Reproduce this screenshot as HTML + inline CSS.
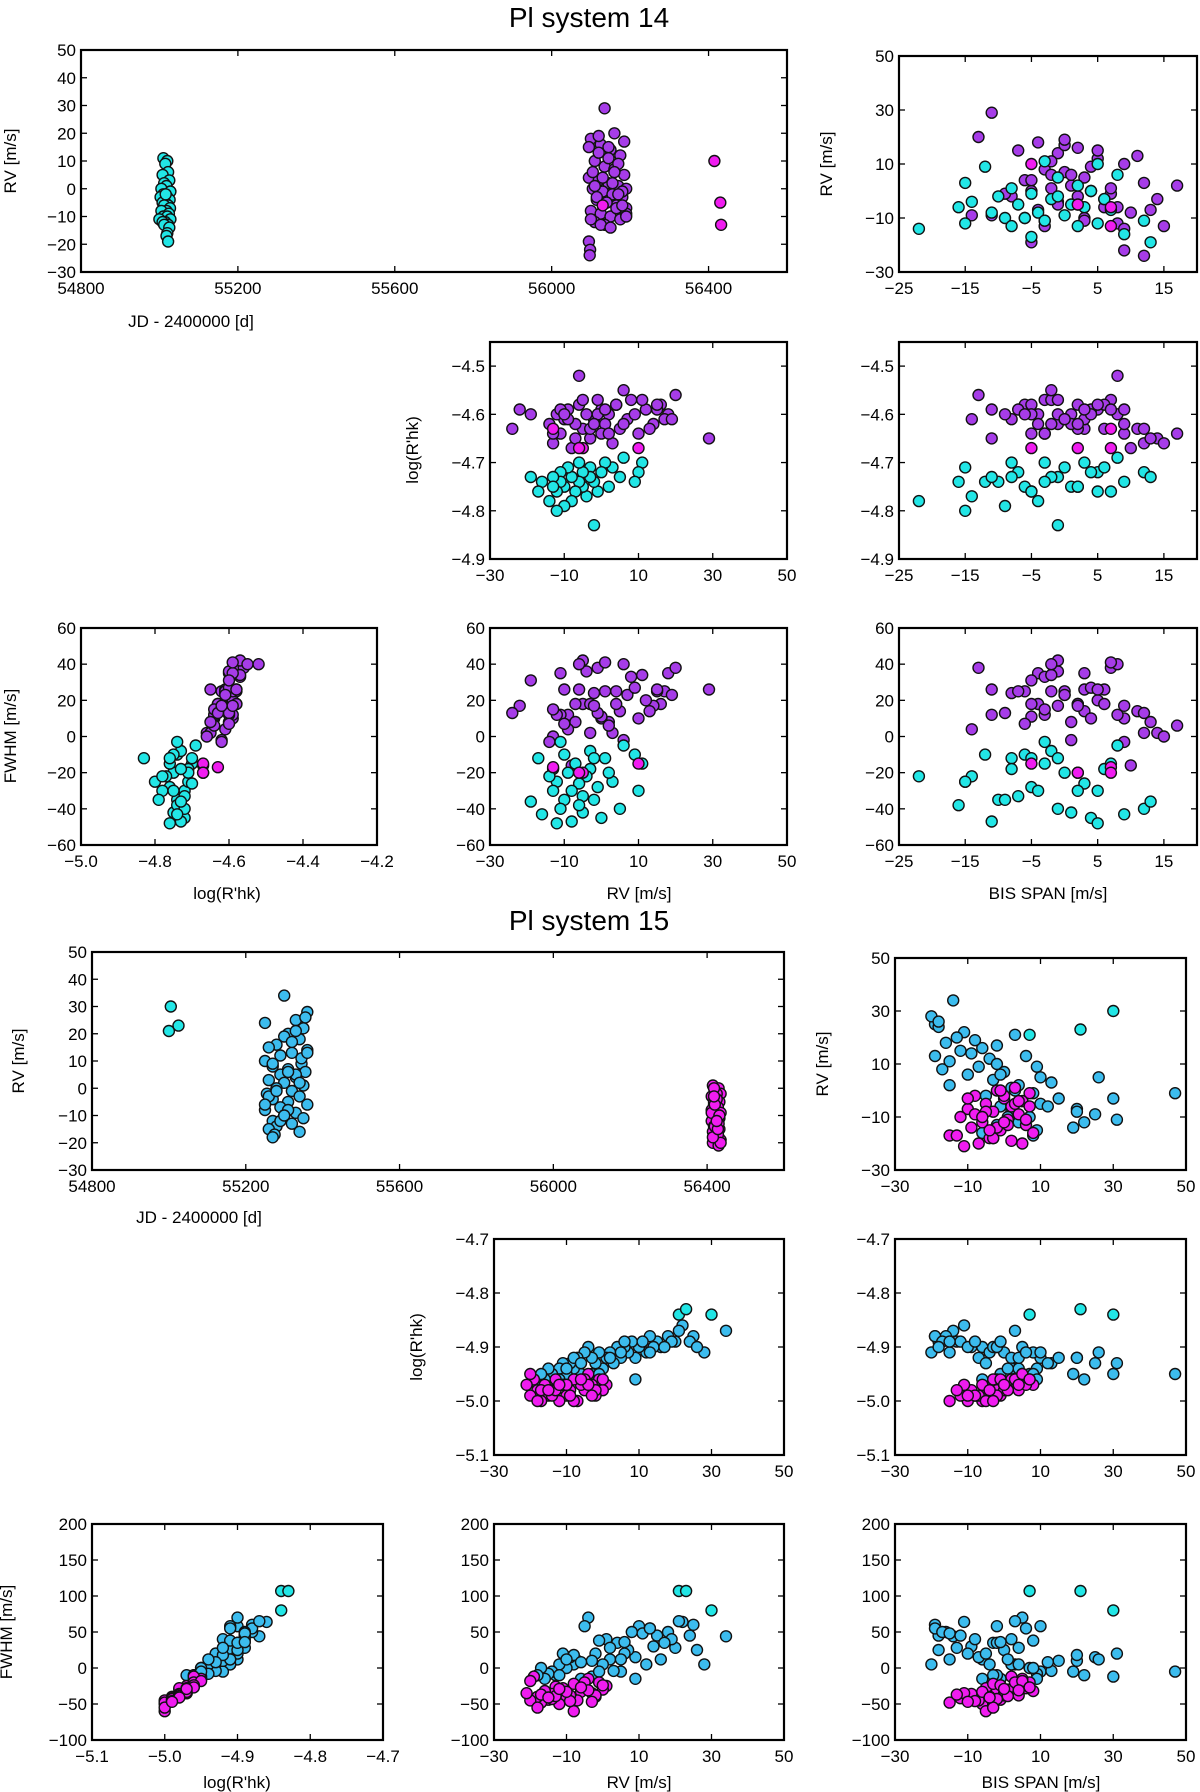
<!DOCTYPE html>
<html><head><meta charset="utf-8"><style>
body{margin:0;background:#fff;}
svg{display:block;font-family:"Liberation Sans","DejaVu Sans",sans-serif;}
</style></head><body>
<svg id="fig" width="1200" height="1792" viewBox="0 0 1200 1792" xmlns="http://www.w3.org/2000/svg">
<rect width="1200" height="1792" fill="#fff"/>
<text x="589" y="27" font-size="28" text-anchor="middle">Pl system 14</text>
<text x="589" y="930" font-size="28" text-anchor="middle">Pl system 15</text>
<g id="plots"></g>
</svg>
<script>
// ---- System 14 data ----
const c14_jd=[55010,55020,55015,55022,55008,55025,55012,55018,55005,55028,55010,55020,55003,55026,55015,55008,55022,55012,55027,55018,55005,55024,55010,55020,55000,55028,55015,55008,55022,55012,55025,55020,55018,55022,55016];
const c14_rv=[11,10,9,6,5,3,2,1,0,-1,-2,-3,-3,-4,-5,-5,-6,-6,-7,-8,-8,-9,-10,-10,-11,-11,-12,-12,-13,-13,-14,-16,-17,-19,-2];
const c14_lr=[-4.70,-4.72,-4.74,-4.69,-4.73,-4.71,-4.75,-4.70,-4.72,-4.76,-4.74,-4.71,-4.73,-4.77,-4.75,-4.72,-4.70,-4.74,-4.76,-4.78,-4.73,-4.71,-4.75,-4.79,-4.72,-4.74,-4.80,-4.76,-4.73,-4.75,-4.78,-4.74,-4.76,-4.73,-4.83];
const c14_fw=[-15,-30,-10,-5,-40,-25,-20,-12,-45,-28,-35,-18,-8,-22,-42,-33,-26,-38,-15,-30,-47,-20,-10,-35,-40,-3,-25,-48,-18,-30,-22,-43,-12,-36,-12];
const c14_bis=[-3,5,-12,8,-1,-15,2,-8,4,-5,-10,6,-2,-14,1,-7,3,-16,7,-4,-11,0,-6,-9,12,-3,-15,5,-8,2,-22,9,-5,13,-1];

const p14_jd=[56100,56125,56150,56175,56110,56135,56160,56185,56095,56120,56145,56170,56190,56105,56130,56155,56180,56115,56140,56165,56190,56100,56125,56150,56175,56110,56135,56160,56185,56095,56120,56145,56170,56105,56130,56155,56180,56115,56140,56165,56190,56100,56125,56150,56095,56098,56097,56135,56120,56145,56160,56170,56180,56190,56110];
const p14_rv=[18,16,14,12,10,8,7,5,4,3,2,1,0,0,-1,-2,-3,-4,-5,-6,-7,-8,-9,-10,-11,-12,-13,20,17,15,13,11,9,6,4,2,-1,-3,-5,-7,-9,-11,-13,-14,-19,-22,-24,29,19,15,6,-2,-6,-10,1];
const p14_lr=[-4.60,-4.58,-4.62,-4.59,-4.64,-4.57,-4.61,-4.63,-4.58,-4.66,-4.60,-4.62,-4.59,-4.64,-4.57,-4.61,-4.65,-4.60,-4.63,-4.58,-4.62,-4.67,-4.59,-4.61,-4.64,-4.60,-4.66,-4.56,-4.61,-4.59,-4.63,-4.57,-4.60,-4.62,-4.58,-4.64,-4.60,-4.63,-4.57,-4.65,-4.61,-4.59,-4.64,-4.62,-4.60,-4.59,-4.63,-4.65,-4.61,-4.58,-4.55,-4.62,-4.52,-4.60,-4.59];
const p14_fw=[35,18,17,20,10,33,23,14,25,2,8,25,10,11,38,24,2,36,18,26,18,-16,12,26,12,12,0,38,25,25,14,34,27,-2,18,6,13,18,42,8,4,35,15,-3,31,17,13,26,23,26,40,17,40,7,41];
const p14_bis=[-4,2,-1,5,9,-3,0,3,-6,12,1,-2,4,-5,7,-8,14,-1,2,6,-4,10,-11,3,-3,8,15,-13,0,-7,11,-2,4,1,-5,17,-9,6,-1,13,-14,3,-3,9,-5,9,12,-11,0,5,-2,2,8,-6,7];

const m14_jd=[56415,56430,56432,56130];
const m14_rv=[10,-5,-13,-6];
const m14_lr=[-4.67,-4.67,-4.63,-4.67];
const m14_fw=[-15,-20,-17,-20];
const m14_bis=[-5,2,7,7];

// ---- System 15 data ----
const c15_jd=[55005,55000,55025];
const c15_rv=[30,21,23];
const c15_lr=[-4.84,-4.84,-4.83];
const c15_fw=[80,107,107];
const c15_bis=[30,7,21];

const b15_jd=[55300,55330,55360,55250,55350,55310,55340,55280,55260,55360,55320,55290,55250,55345,55270,55310,55355,55290,55330,55260,55300,55350,55280,55320,55255,55340,55270,55310,55360,55290,55250,55330,55300,55350,55270,55320,55280,55260,55340,55275,55270,55300,55345,55330,55260,55310,55290,55355,55320,55270,55340,55250,55300,55360,55280,55330,55310];
const b15_rv=[34,25,28,24,22,20,18,16,15,14,13,12,10,9,8,7,6,5,4,3,2,1,0,-1,-2,-3,-4,-5,-6,-7,-8,-9,-10,-11,-12,-13,-14,-15,-16,-17,-18,19,11,5,-3,-8,-12,26,17,9,2,-6,-10,13,-1,21,6];
const b15_lr=[-4.87,-4.88,-4.91,-4.89,-4.86,-4.89,-4.88,-4.90,-4.89,-4.90,-4.88,-4.91,-4.90,-4.92,-4.89,-4.91,-4.90,-4.92,-4.90,-4.93,-4.91,-4.92,-4.94,-4.91,-4.93,-4.92,-4.90,-4.91,-4.95,-4.92,-4.94,-4.93,-4.95,-4.93,-4.94,-4.96,-4.95,-4.94,-4.96,-4.95,-4.97,-4.89,-4.89,-4.91,-4.95,-4.92,-4.96,-4.90,-4.90,-4.96,-4.92,-4.93,-4.94,-4.91,-4.95,-4.87,-4.89];
const b15_fw=[44,60,5,45,64,28,50,12,45,30,55,5,58,15,50,25,20,-5,35,-4,12,40,5,38,20,10,70,58,-15,10,5,15,0,20,5,-10,-5,-8,-15,0,-10,40,48,12,-12,18,-10,25,35,-15,28,8,12,55,-5,65,36];
const b15_bis=[-14,-19,-20,-18,-11,-13,-16,-6,-12,-9,-19,-4,-2,-7,-17,0,-10,10,-3,13,-15,2,3,8,-5,15,5,10,-1,20,2,25,7,31,4,-2,19,9,-6,8,-3,-8,-15,26,30,20,22,-18,-2,9,4,12,1,6,47,3,-1];

const m15_jd=[56415,56430,56420,56435,56412,56425,56432,56418,56428,56415,56435,56420,56430,56412,56425,56418,56432,56415,56428,56420,56435,56415,56430,56425,56418,56412,56432,56420,56428,56435,56418,56425,56412,56430,56415,56420,56432,56428,56418,56425];
const m15_rv=[1,0,-1,-2,-3,-4,-5,-6,-7,-8,-9,-10,-11,-12,-13,-14,-15,-16,-17,-18,-19,-20,-21,-2,-5,-8,-11,-14,-17,-20,0,-4,-9,-13,-18,-6,-10,-15,-3,-12];
const m15_lr=[-4.97,-4.98,-4.96,-4.99,-4.97,-4.95,-4.98,-4.97,-5.00,-4.96,-4.98,-4.99,-4.97,-5.00,-4.96,-4.98,-4.99,-4.97,-5.00,-4.98,-4.96,-4.99,-4.97,-4.98,-4.96,-5.00,-4.97,-4.99,-4.98,-4.95,-4.96,-4.97,-4.99,-4.98,-5.00,-4.96,-4.97,-4.98,-4.99,-4.97];
const m15_fw=[-25,-30,-20,-40,-35,-15,-28,-33,-45,-22,-38,-42,-30,-50,-26,-36,-44,-32,-48,-40,-12,-45,-35,-38,-20,-60,-28,-43,-37,-18,-24,-31,-46,-39,-55,-27,-33,-41,-47,-29];
const m15_bis=[3,-2,7,-8,0,5,-5,2,-10,-3,4,-12,1,-6,6,-9,-1,8,-15,-4,2,-7,-11,0,3,-5,6,-2,-13,5,-1,4,-8,1,-3,7,-6,-4,-10,0];

// tick label arrays
const ticksJD=[54800,55200,55600,56000,56400];
const ticksRV=[-30,-20,-10,0,10,20,30,40,50];
const ticksRV2=[-30,-10,10,30,50];
const ticksBIS14=[-25,-15,-5,5,15];
const ticksBIS15=[-30,-10,10,30,50];
const ticksRVx=[-30,-10,10,30,50];
const ticksLR14=[-4.9,-4.8,-4.7,-4.6,-4.5];
const ticksLRx14=[-5.0,-4.8,-4.6,-4.4,-4.2];
const ticksFW14=[-60,-40,-20,0,20,40,60];
const ticksLR15=[-5.1,-5.0,-4.9,-4.8,-4.7];
const ticksFW15=[-100,-50,0,50,100,150,200];

const NS='http://www.w3.org/2000/svg';
const root=document.getElementById('plots');
function mk(tag,attrs,parent){const e=document.createElementNS(NS,tag);for(const k in attrs)e.setAttribute(k,attrs[k]);(parent||root).appendChild(e);return e;}
function fmt(v,dec){let s=v.toFixed(dec);if(v<0)s='\u2212'+s.slice(1);return s;}

const groups14=[
 {n:'purple',c:'#a63ce8',d:{jd:p14_jd,rv:p14_rv,lr:p14_lr,fw:p14_fw,bis:p14_bis}},
 {n:'cyan',c:'#22e6e6',d:{jd:c14_jd,rv:c14_rv,lr:c14_lr,fw:c14_fw,bis:c14_bis}},
 {n:'magenta',c:'#f01cf0',d:{jd:m14_jd,rv:m14_rv,lr:m14_lr,fw:m14_fw,bis:m14_bis}}];
const groups15=[
 {n:'blue',c:'#3cbcee',d:{jd:b15_jd,rv:b15_rv,lr:b15_lr,fw:b15_fw,bis:b15_bis}},
 {n:'cyan',c:'#22e6e6',d:{jd:c15_jd,rv:c15_rv,lr:c15_lr,fw:c15_fw,bis:c15_bis}},
 {n:'magenta',c:'#f01cf0',d:{jd:m15_jd,rv:m15_rv,lr:m15_lr,fw:m15_fw,bis:m15_bis}}];

function panel(name,x0,x1,y0,y1,xf,xr,xt,xd,yf,yr,yt,yd,groups){
  const g=mk('g',{});
  
  
  const sx=v=>x0+(v-xr[0])/(xr[1]-xr[0])*(x1-x0);
  const sy=v=>y1-(v-yr[0])/(yr[1]-yr[0])*(y1-y0);
  groups.forEach(gr=>{
    const d=gr.d;
    for(let i=0;i<d[xf].length;i++){
      const c=mk('circle',{cx:sx(d[xf][i]).toFixed(1),cy:sy(d[yf][i]).toFixed(1),r:5.5,fill:gr.c,stroke:'#111','stroke-width':1.4},g);
      
      
    }
  });
  xt.forEach(v=>{
    const x=sx(v);
    mk('line',{x1:x,x2:x,y1:y1,y2:y1-6,stroke:'#000','stroke-width':1.3},g);
    mk('line',{x1:x,x2:x,y1:y0,y2:y0+6,stroke:'#000','stroke-width':1.3},g);
    const t=mk('text',{x:x,y:y1+22,'font-size':17,'text-anchor':'middle'},g);
    t.textContent=fmt(v,xd);
    
    
  });
  yt.forEach(v=>{
    const y=sy(v);
    mk('line',{x1:x0,x2:x0+6,y1:y,y2:y,stroke:'#000','stroke-width':1.3},g);
    mk('line',{x1:x1,x2:x1-6,y1:y,y2:y,stroke:'#000','stroke-width':1.3},g);
    const t=mk('text',{x:x0-5,y:y+6,'font-size':17,'text-anchor':'end'},g);
    t.textContent=fmt(v,yd);
    
    
  });
  mk('rect',{x:x0,y:y0,width:x1-x0,height:y1-y0,fill:'none',stroke:'#000','stroke-width':2.2},g);
}
function label(txt,x,y,rot,name){
  const t=mk('text',{x:x,y:y,'font-size':17,'text-anchor':'middle','transform':rot?`rotate(-90 ${x} ${y})`:''});
  t.textContent=txt;
  
  
}
// System 14
panel('s14-rv-vs-time',81,787,50,272,'jd',[54800,56600],ticksJD,0,'rv',[-30,50],ticksRV,0,groups14);
panel('s14-rv-vs-bis',899,1197,56,272,'bis',[-25,20],ticksBIS14,0,'rv',[-30,50],ticksRV2,0,groups14);
panel('s14-logr-vs-rv',490,787,342,559,'rv',[-30,50],ticksRVx,0,'lr',[-4.9,-4.45],ticksLR14,1,groups14);
panel('s14-logr-vs-bis',899,1197,342,559,'bis',[-25,20],ticksBIS14,0,'lr',[-4.9,-4.45],ticksLR14,1,groups14);
panel('s14-fwhm-vs-logr',81,377,628,845,'lr',[-5.0,-4.2],ticksLRx14,1,'fw',[-60,60],ticksFW14,0,groups14);
panel('s14-fwhm-vs-rv',490,787,628,845,'rv',[-30,50],ticksRVx,0,'fw',[-60,60],ticksFW14,0,groups14);
panel('s14-fwhm-vs-bis',899,1197,628,845,'bis',[-25,20],ticksBIS14,0,'fw',[-60,60],ticksFW14,0,groups14);
label('RV [m/s]',16,161,true,'y-axis-title');
label('RV [m/s]',832,164,true,'y-axis-title');
label("log(R'hk)",418,450,true,'y-axis-title');
label('FWHM [m/s]',16,736,true,'y-axis-title');
label('JD - 2400000 [d]',191,327,false,'x-axis-title');
label("log(R'hk)",227,899,false,'x-axis-title');
label('RV [m/s]',639,899,false,'x-axis-title');
label('BIS SPAN [m/s]',1048,899,false,'x-axis-title');
// System 15
panel('s15-rv-vs-time',92,784,952,1170,'jd',[54800,56600],ticksJD,0,'rv',[-30,50],ticksRV,0,groups15);
panel('s15-rv-vs-bis',895,1186,958,1170,'bis',[-30,50],ticksBIS15,0,'rv',[-30,50],ticksRV2,0,groups15);
panel('s15-logr-vs-rv',494,784,1239,1455,'rv',[-30,50],ticksRVx,0,'lr',[-5.1,-4.7],ticksLR15,1,groups15);
panel('s15-logr-vs-bis',895,1186,1239,1455,'bis',[-30,50],ticksBIS15,0,'lr',[-5.1,-4.7],ticksLR15,1,groups15);
panel('s15-fwhm-vs-logr',92,383,1524,1740,'lr',[-5.1,-4.7],ticksLR15,1,'fw',[-100,200],ticksFW15,0,groups15);
panel('s15-fwhm-vs-rv',494,784,1524,1740,'rv',[-30,50],ticksRVx,0,'fw',[-100,200],ticksFW15,0,groups15);
panel('s15-fwhm-vs-bis',895,1186,1524,1740,'bis',[-30,50],ticksBIS15,0,'fw',[-100,200],ticksFW15,0,groups15);
label('RV [m/s]',24,1061,true,'y-axis-title');
label('RV [m/s]',828,1064,true,'y-axis-title');
label("log(R'hk)",422,1347,true,'y-axis-title');
label('FWHM [m/s]',12,1632,true,'y-axis-title');
label('JD - 2400000 [d]',199,1223,false,'x-axis-title');
label("log(R'hk)",237,1788,false,'x-axis-title');
label('RV [m/s]',639,1788,false,'x-axis-title');
label('BIS SPAN [m/s]',1041,1788,false,'x-axis-title');
</script>
</body></html>
